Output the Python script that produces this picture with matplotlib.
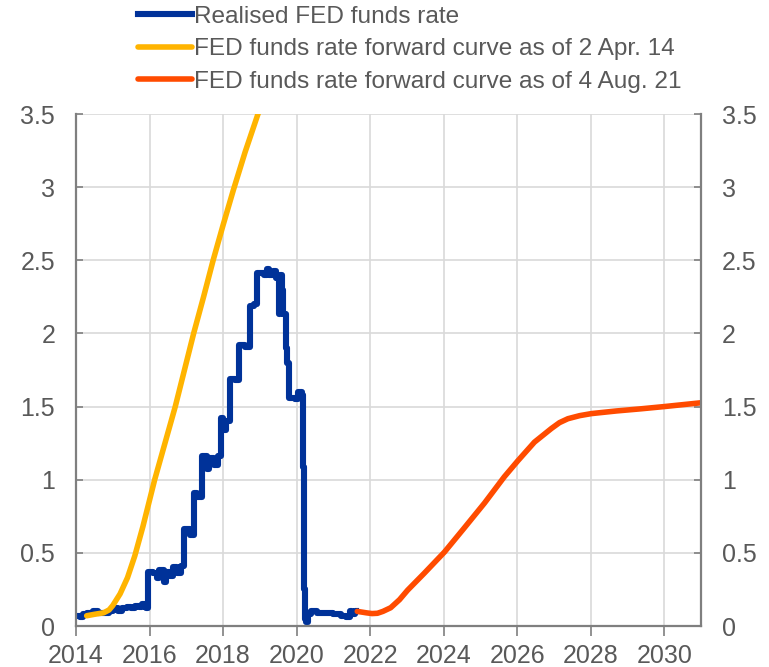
import numpy as np
import matplotlib.pyplot as plt

plt.rcParams['font.family'] = ['Liberation Sans', 'DejaVu Sans']

# realised effective FED funds rate (year fraction, %)
fed_years = [2014.00, 2014.10, 2014.20, 2014.30, 2014.45, 2014.60, 2014.75, 2014.90,
             2015.00, 2015.15, 2015.25, 2015.40, 2015.50, 2015.60, 2015.70, 2015.80, 2015.90,
             2015.95, 2016.10, 2016.20, 2016.25, 2016.40, 2016.45, 2016.55, 2016.65, 2016.75, 2016.85,
             2016.93, 2017.10, 2017.20, 2017.30, 2017.43, 2017.55, 2017.62, 2017.75, 2017.85,
             2017.95, 2018.00, 2018.08, 2018.20, 2018.32, 2018.43, 2018.60, 2018.72, 2018.85,
             2018.93, 2019.10, 2019.20, 2019.25, 2019.35, 2019.45, 2019.52, 2019.56, 2019.60,
             2019.63, 2019.70, 2019.75, 2019.80, 2019.95, 2020.05, 2020.16, 2020.18, 2020.20,
             2020.22, 2020.26, 2020.30, 2020.40, 2020.55, 2020.70, 2020.90, 2021.00, 2021.20,
             2021.35, 2021.45, 2021.52, 2021.58, 2021.62]
fed_rate = [0.07, 0.06, 0.08, 0.09, 0.10, 0.09, 0.09, 0.10,
            0.12, 0.10, 0.12, 0.13, 0.12, 0.14, 0.13, 0.15, 0.12,
            0.37, 0.36, 0.33, 0.38, 0.30, 0.37, 0.34, 0.40, 0.36, 0.41,
            0.66, 0.62, 0.91, 0.88, 1.16, 1.07, 1.15, 1.10, 1.16,
            1.42, 1.34, 1.40, 1.69, 1.68, 1.92, 1.91, 2.19, 2.20,
            2.41, 2.40, 2.44, 2.40, 2.43, 2.38, 2.13, 2.40, 2.30,
            2.13, 1.90, 1.80, 1.56, 1.55, 1.60, 1.58, 1.09, 0.25,
            0.05, 0.03, 0.08, 0.10, 0.09, 0.09, 0.09, 0.08, 0.07,
            0.06, 0.10, 0.08, 0.10, 0.10]

# forward curve as of 2 Apr. 14
fwd14_years = [2014.29, 2014.50, 2014.75, 2014.90, 2015.00, 2015.20, 2015.40, 2015.60, 2015.82,
               2016.00, 2016.14, 2016.42, 2016.70, 2016.95, 2017.20, 2017.47, 2017.73, 2018.00,
               2018.28, 2018.60, 2018.95, 2019.05]
fwd14_rate = [0.07, 0.08, 0.09, 0.11, 0.14, 0.22, 0.33, 0.48, 0.68,
              0.86, 1.00, 1.25, 1.50, 1.75, 2.00, 2.25, 2.50, 2.74,
              2.98, 3.24, 3.50, 3.56]

# forward curve as of 4 Aug. 21
fwd21_years = [2021.65, 2021.90, 2022.05, 2022.20, 2022.35, 2022.56, 2022.80, 2023.02, 2023.47,
               2024.02, 2024.56, 2025.11, 2025.65, 2026.02, 2026.47, 2026.93, 2027.15, 2027.38,
               2027.70, 2028.02, 2028.70, 2029.38, 2030.00, 2031.00]
fwd21_rate = [0.10, 0.09, 0.085, 0.087, 0.10, 0.125, 0.18, 0.245, 0.36,
              0.505, 0.67, 0.84, 1.02, 1.13, 1.257, 1.35, 1.39, 1.417,
              1.438, 1.452, 1.47, 1.485, 1.50, 1.526]

blue = '#003299'
yellow = '#ffb400'
orange = '#ff4b00'
txt = '#595959'
spine_c = '#7f7f7f'

fig = plt.figure(figsize=(7.69, 6.67), dpi=100)
ax = fig.add_axes([76 / 769, 1 - 626 / 667, 625 / 769, 512 / 667])

ax.plot(fed_years, fed_rate, color=blue, lw=4.4, drawstyle='steps-post',
        solid_joinstyle='round', label='Realised FED funds rate')
ax.plot(fwd14_years, fwd14_rate, color=yellow, lw=4, solid_capstyle='round',
        label='FED funds rate forward curve as of 2 Apr. 14')
ax.plot(fwd21_years, fwd21_rate, color=orange, lw=4, solid_capstyle='round',
        label='FED funds rate forward curve as of 4 Aug. 21')

ax.set_xlim(2014, 2031)
ax.set_ylim(0, 3.5)
ax.set_xticks(np.arange(2014, 2031, 2))
ax.set_yticks([0, 0.5, 1, 1.5, 2, 2.5, 3, 3.5])
ax.set_yticklabels(['0', '0.5', '1', '1.5', '2', '2.5', '3', '3.5'])

ax.grid(True, color='#d9d9d9', lw=1.2)
ax.set_axisbelow(True)
for s in ['left', 'right', 'bottom']:
    ax.spines[s].set_color(spine_c)
    ax.spines[s].set_linewidth(1.6)
ax.spines['top'].set_visible(False)

ax.tick_params(axis='x', direction='out', length=7, width=1.2, color=spine_c,
               labelsize=18, labelcolor=txt, pad=6)
ax.tick_params(axis='y', direction='in', length=5, width=1.2, color=spine_c,
               labelsize=18, labelcolor=txt, left=True, right=True,
               labelleft=True, labelright=True, pad=15)

fig.legend(loc='upper left', bbox_to_anchor=(128 / 769, 1.006), frameon=False,
           fontsize=17.6, handlelength=2.2, handletextpad=0.1, labelspacing=0.42,
           labelcolor=txt, borderaxespad=0)

fig.savefig('out.png', dpi=100)
